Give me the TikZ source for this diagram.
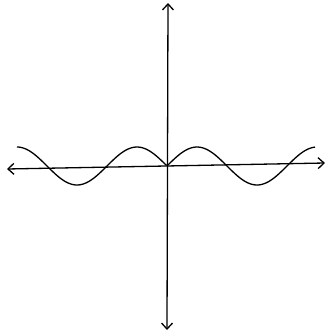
\documentclass[tikz,border=0pt]{standalone}
\usetikzlibrary{arrows.meta}

\begin{document}
\begin{tikzpicture}[x=1bp,y=1bp,
    axis/.style={line width=1.3bp, {Straight Barb[length=6bp,width=11bp]}-{Straight Barb[length=6bp,width=11bp]}},
    wave/.style={line width=1.3bp, line join=round}]
  % page size (origin at the crossing of the axes)
  \useasboundingbox (-167,-169) rectangle (164,166);

  % axes
  \coordinate (west) at (-160,-3);
  \coordinate (east) at (158,3);
  \coordinate (north) at (1,163);
  \coordinate (south) at (0,-164);
  \draw[axis] (west) -- (east);
  \draw[axis] (south) -- (north);

  % the curve y = sin|x|, half period 60, height 19
  \draw[wave] plot[domain=-150:148, samples=149]
    (\x, {19*sin(3*abs(\x))});
\end{tikzpicture}
\end{document}
